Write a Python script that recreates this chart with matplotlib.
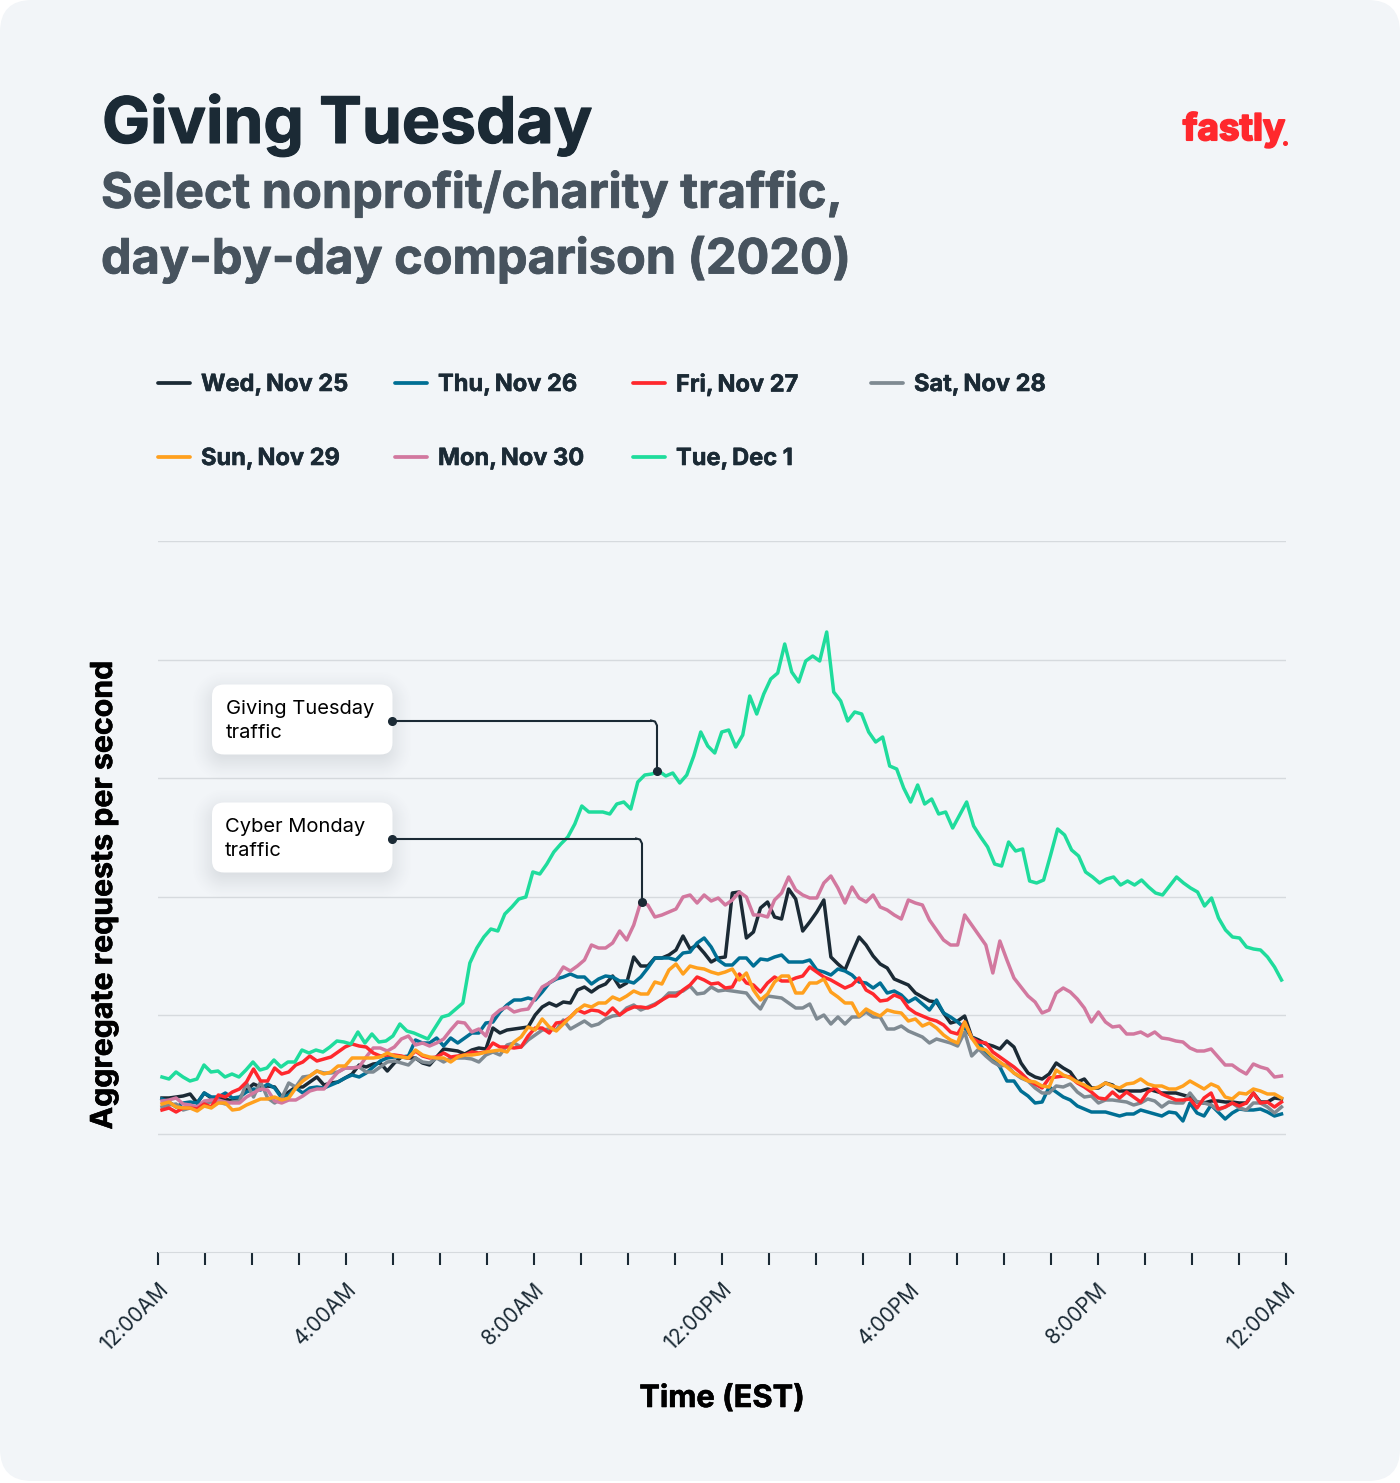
import numpy as np
import matplotlib
matplotlib.use("Agg")
import matplotlib.pyplot as plt
import matplotlib.patheffects as pe
from matplotlib.patches import FancyBboxPatch

plt.rcParams['font.family'] = ['Inter', 'Roboto', 'DejaVu Sans']

# values, y unit is arbitrary (no y labels in the original)
wed = [36,36,37,38,40,31,41,36,36,35,33,36,44,50,47,48,47,37,42,47,47,52,57,49,51,52,56,60,69,67,70,71,63,71,77,76,76,71,69,77,85,84,83,80,84,86,85,106,101,104,105,106,107,
       119,127,131,128,132,131,144,147,142,147,150,158,147,151,177,168,168,176,176,179,184,198,185,189,181,172,176,177,241,242,196,202,226,232,217,215,245,235,203,212,222,234,177,170,164,181,197,189,178,170,166,155,152,149,141,
       137,133,132,121,111,113,118,97,94,90,88,85,93,87,71,61,57,55,60,71,66,62,52,55,46,46,51,49,43,43,43,43,45,43,41,41,41,39,37,32,31,33,33,32,32,31,31,41,32,32,36,35]
thu = [35,32,27,31,32,31,41,37,37,41,36,37,42,45,44,50,46,36,39,46,41,46,47,46,49,52,56,59,57,61,67,73,76,77,77,78,94,91,91,96,88,96,91,96,101,101,111,112,122,129,134,134,136,
       134,142,151,155,157,160,157,157,150,155,158,157,153,153,151,157,166,176,176,176,174,181,182,191,196,187,174,169,169,176,176,168,175,174,177,179,172,172,172,174,164,162,159,165,163,159,152,151,146,151,141,143,139,132,136,
       130,124,134,121,117,112,106,97,91,81,76,67,53,53,43,38,31,32,47,42,37,34,28,25,22,22,22,20,18,20,20,24,22,20,18,22,21,13,31,21,18,29,22,15,21,25,24,24,25,22,18,20]
fri = [24,26,22,26,26,25,30,27,39,37,42,45,52,65,53,53,66,60,62,69,72,78,73,75,77,82,87,90,88,87,81,78,79,79,78,76,83,78,76,77,81,77,78,79,82,81,82,91,87,87,86,87,98,
       106,106,101,111,112,117,124,121,124,123,119,126,119,124,127,127,126,129,134,138,138,144,149,157,154,150,151,146,147,160,151,149,142,151,157,153,153,156,158,167,162,157,154,150,146,149,156,144,140,133,134,139,136,126,121,
       118,115,113,109,102,100,112,96,92,91,82,77,72,67,61,54,50,46,56,57,58,57,51,47,42,36,35,42,36,42,37,32,42,46,40,37,34,34,35,26,36,41,25,27,31,28,31,41,31,32,27,32]
sat = [27,29,30,24,26,27,31,32,32,30,32,33,51,37,52,36,31,36,51,47,57,58,63,61,61,62,66,66,67,62,62,67,72,73,71,69,76,72,71,76,72,76,76,76,75,72,79,82,79,89,91,87,94,
       99,104,105,104,114,105,109,113,108,110,115,118,119,126,129,124,127,130,134,141,141,143,148,140,141,147,143,144,143,142,141,132,125,138,137,136,131,126,126,130,115,119,110,117,110,117,117,122,117,117,105,105,108,103,100,
       97,91,95,93,91,88,102,78,85,78,72,68,69,61,56,53,46,41,41,48,47,50,42,37,38,31,34,34,33,32,29,31,35,33,27,32,31,31,41,32,31,29,24,27,31,26,24,31,31,27,21,27]
sun = [30,32,27,26,26,23,28,26,31,31,24,25,29,32,35,35,37,34,36,46,53,58,63,60,62,68,68,76,76,76,76,77,81,78,77,76,84,79,77,76,76,72,77,79,79,80,82,83,84,82,92,97,107,
       104,115,107,103,110,117,124,129,127,131,131,137,134,138,143,140,140,152,150,164,170,160,168,166,165,162,160,162,165,154,161,144,134,140,152,158,158,141,141,151,151,155,142,137,131,131,118,125,121,118,124,122,121,113,115,
       108,111,106,99,94,91,112,96,86,84,77,72,67,61,57,53,52,48,47,64,59,56,52,49,45,47,51,48,46,50,51,55,50,48,48,45,45,48,53,49,45,50,47,37,35,41,40,45,43,40,40,36]
mon = [33,34,36,30,29,27,33,34,34,32,31,31,37,41,45,44,33,31,34,34,38,43,45,45,54,62,66,66,67,77,86,86,83,87,95,98,89,91,88,91,95,104,112,111,102,105,98,118,124,127,122,124,125,
       136,147,151,156,167,163,168,174,189,186,186,191,203,194,209,232,229,217,219,222,225,237,239,231,239,233,236,229,234,242,237,219,219,217,234,241,257,244,239,236,236,251,258,246,231,247,236,232,239,227,224,219,215,234,231,
       229,214,204,194,189,189,219,209,199,189,161,193,174,156,147,138,132,121,124,141,146,142,135,126,112,122,112,107,108,100,100,102,98,102,96,95,93,92,86,83,83,85,77,69,69,64,60,70,67,65,57,58]
tue = [57,55,62,57,53,55,69,62,63,57,60,57,64,72,64,66,74,67,72,72,84,81,84,82,87,93,92,90,102,91,100,92,93,98,110,103,101,98,95,106,117,119,125,131,171,
       186,197,205,203,220,227,235,237,262,260,270,282,290,297,310,328,322,322,322,320,330,332,325,352,359,360,363,358,
       361,351,359,378,402,388,381,402,404,387,399,438,420,440,455,461,490,462,452,473,478,473,502,442,433,413,422,420,402,392,397,368,365,346,332,349,330,335,320,322,306,319,332,308,297,287,270,268,
       292,283,285,253,251,254,279,305,299,284,278,262,257,251,255,257,249,253,249,254,247,241,239,248,257,251,246,242,228,236,216,204,197,196,187,185,184,177,167,154]

series = [("Wed, Nov 25", wed, "#1b2a35"), ("Thu, Nov 26", thu, "#006f94"), ("Sat, Nov 28", sat, "#7f8a92"),
          ("Mon, Nov 30", mon, "#d2789f"), ("Fri, Nov 27", fri, "#ff282d"), ("Sun, Nov 29", sun, "#ffa01e"),
          ("Tue, Dec 1", tue, "#1fdc9c")]
tick_labels = ["12:00AM", "4:00AM", "8:00AM", "12:00PM", "4:00PM", "8:00PM", "12:00AM"]
legend_rows = [["Wed, Nov 25", "Thu, Nov 26", "Fri, Nov 27", "Sat, Nov 28"],
               ["Sun, Nov 29", "Mon, Nov 30", "Tue, Dec 1"]]

W, H = 1400, 1483
DARK = "#1b2a35"
GREY = "#47535e"
fig = plt.figure(figsize=(W / 100, H / 100), dpi=100, facecolor="white")

# page layer, works in pixels
bg = fig.add_axes([0, 0, 1, 1], zorder=0)
bg.set_xlim(0, W)
bg.set_ylim(H, 0)
bg.axis("off")
bg.add_patch(FancyBboxPatch((32, 32), W - 64, H - 66, boxstyle="round,pad=32,rounding_size=32",
                            fc="#f2f5f8", ec="none"))

ax = fig.add_axes([158 / W, 1 - 1252 / H, 1127.5 / W, 711 / H], zorder=1)
ax.patch.set_alpha(0)
for name, vals, col in series:
    t = np.linspace(0.085, 23.915, len(vals))
    ax.plot(t, vals, color=col, lw=2.5, solid_joinstyle="round", zorder=3)
ax.set_xlim(0, 24)
ax.set_ylim(-118, 593)
ax.set_yticks(np.arange(0, 594, 118.6))
ax.set_yticklabels([])
ax.tick_params(axis="y", length=0)
ax.grid(axis="y", color="#d6dade", lw=1)
ax.set_axisbelow(True)
for s in ["top", "left", "right"]:
    ax.spines[s].set_visible(False)
ax.spines["bottom"].set_color("#d6dade")
ax.set_xticks(np.arange(0, 25, 4))
ax.set_xticks(np.arange(0, 25, 1), minor=True)
ax.set_xticklabels(tick_labels, rotation=45, ha="right", rotation_mode="anchor", fontsize=15, color=DARK)
ax.tick_params(axis="x", which="both", length=9.5, width=1.5, color=DARK, pad=10)

# overlay for text and callouts
top = fig.add_axes([0, 0, 1, 1], zorder=2)
top.set_xlim(0, W)
top.set_ylim(H, 0)
top.axis("off")

t = top.text(102, 125, "Giving Tuesday", fontsize=46.2, fontweight="bold", color=DARK, va="center")
t.set_path_effects([pe.Stroke(linewidth=0.8, foreground=DARK), pe.Normal()])
for y, line in [(194, "Select nonprofit/charity traffic,"), (260, "day-by-day comparison (2020)")]:
    t = top.text(101, y, line, fontsize=35, fontweight="bold", color=GREY, va="center")
    t.set_path_effects([pe.Stroke(linewidth=0.6, foreground=GREY), pe.Normal()])

t = top.text(1285, 130, "fastly", fontsize=26.5, fontweight="bold", color="#ff282d", va="center", ha="right")
t.set_path_effects([pe.Stroke(linewidth=1.4, foreground="#ff282d"), pe.Normal()])
top.plot([1285], [143], "o", color="#ff282d", ms=2.6)

colors = {name: col for name, vals, col in series}
for row, y in zip(legend_rows, [383, 457]):
    for name, x in zip(row, [158, 395, 633, 871]):
        top.plot([x, x + 32], [y, y], color=colors[name], lw=2.7, solid_capstyle="round")
        label = name.replace(", ", ",\u2009")
        t = top.text(x + 43, y + 2, label, fontsize=17, fontweight="bold", color=DARK, va="center")
        t.set_path_effects([pe.Stroke(linewidth=0.4, foreground=DARK), pe.Normal()])

t = top.text(104, 895, "Aggregate requests per second", fontsize=21.8, fontweight="bold", color="black",
             rotation=90, va="center", ha="center")
t.set_path_effects([pe.Stroke(linewidth=0.4, foreground="black"), pe.Normal()])
t = top.text(722, 1399, "Time (EST)", fontsize=22.2, fontweight="bold", color="black", va="center", ha="center")
t.set_path_effects([pe.Stroke(linewidth=0.4, foreground="black"), pe.Normal()])

def soft_shadow(x0, y0, w, h, r=12, blur=24, alpha=0.18):
    # rounded box distance field, faded out over the blur width
    xs = np.arange(x0 - blur * 2, x0 + w + blur * 2)
    ys = np.arange(y0 - blur * 2, y0 + h + blur * 2)
    xx, yy = np.meshgrid(xs, ys)
    dx = np.abs(xx - (x0 + w / 2)) - (w / 2 - r)
    dy = np.abs(yy - (y0 + h / 2)) - (h / 2 - r)
    d = np.hypot(np.maximum(dx, 0), np.maximum(dy, 0)) + np.minimum(np.maximum(dx, dy), 0) - r
    s = np.clip(0.5 - d / (2 * blur), 0, 1)
    a = alpha * s * s * (3 - 2 * s)
    img = np.zeros(a.shape + (4,))
    img[..., :3] = (0.23, 0.27, 0.31)
    img[..., 3] = a
    top.imshow(img, extent=(xs[0], xs[-1], ys[-1], ys[0]), aspect="auto", interpolation="bilinear", zorder=1)
    top.set_xlim(0, W)
    top.set_ylim(H, 0)

def callout(y0, lines, tx, ty, pad):
    soft_shadow(212, y0 + 7, 180, 70)
    top.add_patch(FancyBboxPatch((212, y0), 180.5, 70, boxstyle="round,pad=0,rounding_size=12", fc="white", ec="none", zorder=2))
    top.text(pad, y0 + 25, lines[0], fontsize=14.5, color="black", va="center", zorder=3)
    top.text(pad, y0 + 49, lines[1], fontsize=14.5, color="black", va="center", zorder=3)
    y = y0 + 36
    top.plot([392, tx - 6], [y, y], color=DARK, lw=1.5, zorder=3)
    top.plot([tx - 6, tx - 2, tx, tx], [y, y + 1, y + 5, ty], color=DARK, lw=1.5, zorder=3)
    top.plot([392, tx], [y, ty], "o", color=DARK, ms=5.5, zorder=4)

callout(684.5, ["Giving Tuesday", "traffic"], 657, 771, 226)
callout(802.5, ["Cyber Monday", "traffic"], 642, 902, 225)

fig.savefig("out.png", dpi=100, facecolor="white")
